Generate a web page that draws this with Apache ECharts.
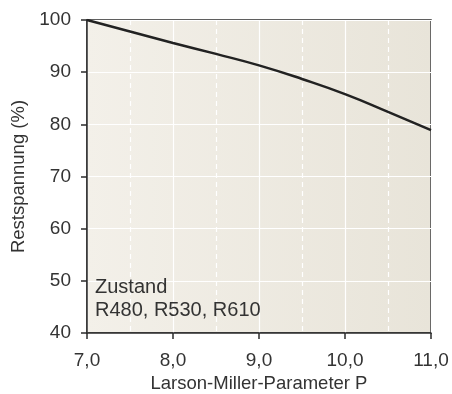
<!DOCTYPE html>
<html>
<head>
<meta charset="utf-8">
<script src="https://cdn.jsdelivr.net/npm/echarts@6/dist/echarts.min.js"></script>
<style>
  html, body { margin: 0; padding: 0; background: #fff; }
  #chart { width: 452px; height: 394px; }
</style>
</head>
<body>
<div id="chart"></div>
<script>
  // Larson-Miller-Parameter P vs. Restspannung (%)
  const pValues = [7.0, 7.5, 8.0, 8.5, 9.0, 9.5, 10.0, 10.5, 11.0];
  const restspannung = [100, 97.8, 95.6, 93.5, 91.3, 88.7, 85.8, 82.4, 78.9];
  const legendLines = ['Zustand', 'R480, R530, R610'];

  const font = '"Liberation Sans", Arial, sans-serif';
  const textColor = '#333';
  const axisColor = '#2b2b2b';

  const chart = echarts.init(document.getElementById('chart'), null, { renderer: 'canvas' });

  chart.setOption({
    animation: false,
    textStyle: { fontFamily: font },
    grid: {
      left: 87, right: 21, top: 20, bottom: 61,
      outerBoundsMode: 'none',
      containLabel: false,
      show: true,
      borderColor: axisColor,
      borderWidth: 1.5,
      backgroundColor: new echarts.graphic.LinearGradient(0, 0, 1, 0, [
        { offset: 0, color: '#f3f0e9' },
        { offset: 1, color: '#e8e4d9' }
      ])
    },
    graphic: [{
      type: 'text',
      left: 95,
      top: 276,
      z: 100,
      style: {
        text: legendLines.join('\n'),
        font: '20px ' + font,
        fill: textColor,
        lineHeight: 23
      }
    }],
    xAxis: {
      type: 'value',
      min: 7, max: 11, interval: 1,
      name: 'Larson-Miller-Parameter P',
      nameLocation: 'middle',
      nameGap: 41,
      nameTextStyle: { fontSize: 18.5, color: textColor },
      axisLine: { lineStyle: { color: axisColor, width: 1.5 } },
      axisTick: { show: true, length: 6, lineStyle: { color: axisColor, width: 1.5 } },
      axisLabel: {
        fontSize: 19, color: textColor, margin: 18,
        formatter: v => v.toFixed(1).replace('.', ',')
      },
      splitLine: { show: true, lineStyle: { color: '#ffffff', width: 1.2 } },
      minorTick: { show: false, splitNumber: 2 },
      minorSplitLine: { show: true, lineStyle: { color: '#ffffff', width: 1.2, type: [5, 4] } }
    },
    yAxis: {
      type: 'value',
      min: 40, max: 100, interval: 10,
      name: 'Restspannung (%)',
      nameLocation: 'middle',
      nameGap: 53,
      nameTextStyle: { fontSize: 18.5, color: textColor },
      axisLine: { show: true, lineStyle: { color: axisColor, width: 1.5 } },
      axisTick: { show: true, length: 6, lineStyle: { color: axisColor, width: 1.5 } },
      axisLabel: { fontSize: 19, color: textColor, margin: 16 },
      splitLine: { show: true, lineStyle: { color: '#ffffff', width: 1.2 } }
    },
    series: [{
      type: 'line',
      data: pValues.map((p, i) => [p, restspannung[i]]),
      smooth: true,
      showSymbol: false,
      lineStyle: { color: '#222', width: 2.5 }
    }]
  });
</script>
</body>
</html>
